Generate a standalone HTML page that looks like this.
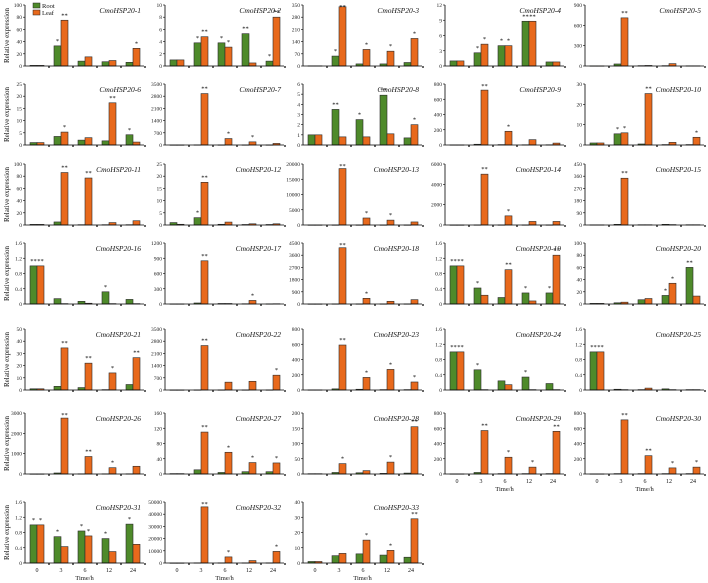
<!DOCTYPE html>
<html><head><meta charset="utf-8">
<style>
html,body{margin:0;padding:0;background:#fff;overflow:hidden;width:708px;height:583px;}
svg{display:block;font-family:"Liberation Serif",serif;overflow:hidden;}
</style></head>
<body>
<svg id="chart" width="708" height="583" viewBox="0 0 708 583" xmlns="http://www.w3.org/2000/svg"></svg>
<script>
// ---- data ----
const timeLabels = ["0","3","6","12","24"];
const geneNames = ["CmoHSP20-1","CmoHSP20-2","CmoHSP20-3","CmoHSP20-4","CmoHSP20-5","CmoHSP20-6","CmoHSP20-7","CmoHSP20-8","CmoHSP20-9","CmoHSP20-10","CmoHSP20-11","CmoHSP20-12","CmoHSP20-13","CmoHSP20-14","CmoHSP20-15","CmoHSP20-16","CmoHSP20-17","CmoHSP20-18","CmoHSP20-19","CmoHSP20-20","CmoHSP20-21","CmoHSP20-22","CmoHSP20-23","CmoHSP20-24","CmoHSP20-25","CmoHSP20-26","CmoHSP20-27","CmoHSP20-28","CmoHSP20-29","CmoHSP20-30","CmoHSP20-31","CmoHSP20-32","CmoHSP20-33"];
const yMax = [100,10,350,12,900,25,3500,6,800,30,100,25,20000,6000,450,1.6,1200,4500,1.6,100,50,3500,800,1.6,1.6,3000,160,200,800,800,1.6,50000,40];
const yStep = [20,2,70,3,300,5,700,1,200,10,20,5,5000,2000,90,0.4,300,900,0.4,20,10,700,200,0.4,0.4,1000,40,50,200,200,0.4,10000,10];
const rootValues = [
[1,33,8,7,6],[1,3.8,3.8,5.3,0.8],[1,57,12,12,20],[1,2.6,4,8.8,0.8],[1,30,5,5,3],
[1,3.5,2,1.7,4.2],[1,5,3,3,3],[1,3.5,2.5,4.9,0.7],[1,10,5,3,3],[1,5.5,0.5,0.2,0.2],
[1,5,0.5,0.5,0.5],[1,3,0.3,0.2,0.2],[1,5,5,5,5],[1,5,5,5,5],[1,5,2,5,2],
[1,0.14,0.07,0.32,0.12],[1,20,10,5,2],[1,5,5,5,5],[1,0.42,0.17,0.29,0.29],[1,2,7,14,60],
[1,3,2,0.3,4.5],[1,3,3,3,3],[1,15,10,5,5],[1,0.53,0.24,0.34,0.17],[1,0.02,0.01,0.03,0.01],
[1,50,10,10,10],[1,11,4,6,6],[1,5,4,2,3],[1,20,5,5,5],[1,5,5,5,5],
[1,0.69,0.84,0.64,1.02],[1,100,100,100,100],[1,4.8,6,5.2,3.8]];
const leafValues = [
[1,75,15,9,29],[1,4.8,3.1,0.5,8],[1,340,95,85,158],[1,4.3,4,8.8,0.8],[1,710,8,35,3],
[1,5.3,3,17.3,1.2],[1,2950,370,180,90],[1,0.8,0.8,1.1,2],[1,720,180,70,25],[1,6,25.3,1.3,3.8],
[1,86,77,4,7],[0.3,17.5,1.2,0.5,0.5],[1,18500,2300,1600,1000],[1,5000,900,350,350],[1,345,2,3,2],
[1,0.01,0.02,0.01,0.01],[1,850,10,70,5],[1,4150,420,200,320],[1,0.23,0.9,0.08,1.28],[1,3,9,34,13],
[1,34.5,22,14,26.5],[1,2550,450,500,850],[1,590,165,270,105],[1,0.01,0.14,0.01,0.01],[1,0.01,0.05,0.01,0.01],
[1,2750,860,310,380],[1,110,57,30,29],[1,34,11,39,155],[1,570,220,90,560],[1,710,240,80,90],
[1,0.43,0.71,0.3,0.49],[1,46000,5000,2000,9500],[1,6.3,15,8.3,29]];
// significance marks per group, "|"-separated (0|3|6|12|24)
const rootStars = ["|*|||","|*|*|**|*","|*|||","|*|*|**|","||||","||||*","||||","|**|*|**|","||||","|*|||",
"||||","|*|||","||||","||||","||||","**|||*|","||||","||||","**|*||*|*","|||*|**",
"||||","||||","||||","**|*||*|","**||||","||||","||||","||||","||||","||||",
"*|*|*|*|*","||||","||||"];
const leafStars = ["|**|||*","|**|*||**","|**|*|*|*","|*|*|**|","|**|||","|*||**|","|**|*|*|","||||*","|**|*||","|*|**||*",
"|**|**||","|**|||","|**|*|*|","|**|*||","|**|||","**||||","|**||*|","|**|*||","**||**||**","|||*|",
"|**|**|*|**","|**|||*","|**|*|*|*","**||||","**||||","|**|**|*|","|**|*|*|*","|*||*|**","|**|*|*|**","|**|**|*|*",
"*||*||","|**|*||*","||*|*|**"];

// ---- layout ----
const colX = [25,165,303,445,585];
const rowTop = [5,84,164,243,329,413,502];
const plotH = 61, plotW = 119, groupW = 24, barW = 7;
const NS = "http://www.w3.org/2000/svg";
const svg = document.getElementById('chart');
function mk(tag, attrs, parent){
  const e = document.createElementNS(NS, tag);
  for (const k in attrs) e.setAttribute(k, attrs[k]);
  (parent||svg).appendChild(e);
  return e;
}
function fmt(v){ return Math.abs(v - Math.round(v)) < 1e-9 ? String(Math.round(v)) : v.toFixed(1); }

for (let p = 0; p < geneNames.length; p++) {
  const col = p % 5, row = Math.floor(p / 5);
  const x0 = colX[col], top = rowTop[row], bot = top + plotH;
  const g = mk('g', {});
  
  
  const ys = v => bot - (Math.min(v, yMax[p]) / yMax[p]) * plotH;
  const xc = i => x0 + 12 + groupW * i;
  const rs = rootStars[p].split('|'), ls = leafStars[p].split('|');

  for (let i = 0; i < 5; i++) {
    const rv = rootValues[p][i], lv = leafValues[p][i];
    const ry = ys(rv), ly = ys(lv);
    const r = mk('rect', {x: xc(i) - barW, y: ry, width: barW, height: Math.max(0.3, bot - ry), fill: '#4e8a2a', stroke: '#2a2a2a', 'stroke-width': 0.6}, g);
    
    
    const l = mk('rect', {x: xc(i), y: ly, width: barW, height: Math.max(0.3, bot - ly), fill: '#e8691c', stroke: '#2a2a2a', 'stroke-width': 0.6}, g);
    
    
    if (rs[i]) {
      const s = mk('text', {x: xc(i) - barW / 2, y: ry - 3, 'font-size': 6.5, 'text-anchor': 'middle', fill: '#111'}, g);
      s.textContent = rs[i];
      
      
    }
    if (ls[i]) {
      const s = mk('text', {x: xc(i) + barW / 2, y: Math.max(top + 4, ly - 3), 'font-size': 6.5, 'text-anchor': 'middle', fill: '#111'}, g);
      s.textContent = ls[i];
      
      
    }
  }
  const ax = mk('path', {d: `M${x0},${top} V${bot} H${x0 + plotW}`, stroke: '#000', 'stroke-width': 0.8, fill: 'none'}, g);
  
  
  for (let i = 1; i <= 5; i++) {
    const t = mk('line', {x1: x0 + groupW * i, x2: x0 + groupW * i, y1: bot, y2: bot + 2, stroke: '#000', 'stroke-width': 1.2}, g);
    
    
  }
  for (let v = 0; v <= yMax[p] + 1e-9; v += yStep[p]) {
    const y = ys(v);
    const t = mk('line', {x1: x0 - 2, x2: x0, y1: y, y2: y, stroke: '#000', 'stroke-width': 0.6}, g);
    
    
    const tl = mk('text', {x: x0 - 3, y: y + 2, 'font-size': 5.5, 'text-anchor': 'end', fill: '#222'}, g);
    tl.textContent = fmt(v);
    
    
  }
  const tt = mk('text', {x: x0 + plotW - 3, y: top + 8, 'font-size': 7.5, 'font-style': 'italic', 'text-anchor': 'end', fill: '#111'}, g);
  tt.textContent = geneNames[p];
  
  

  if (col === 0) {
    const yl = mk('text', {x: 9, y: top + plotH / 2, 'font-size': 7, 'text-anchor': 'middle', transform: `rotate(-90 9 ${top + plotH / 2})`, fill: '#111'}, g);
    yl.textContent = 'Relative expression';
    
    
  }
  if (row === 6 || p === 28 || p === 29) {
    for (let i = 0; i < 5; i++) {
      const xl = mk('text', {x: xc(i), y: bot + 9, 'font-size': 6, 'text-anchor': 'middle', fill: '#111'}, g);
      xl.textContent = timeLabels[i];
      
      
    }
    const xt = mk('text', {x: x0 + plotW / 2, y: bot + 17, 'font-size': 6.5, 'text-anchor': 'middle', fill: '#111'}, g);
    xt.textContent = 'Time/h';
    
    
  }
}
const lg = mk('g', {});


const lr = mk('rect', {x: 33, y: 3, width: 7, height: 5, fill: '#4e8a2a', stroke: '#222', 'stroke-width': 0.5}, lg);


const lt = mk('text', {x: 42, y: 8, 'font-size': 6.5, fill: '#111'}, lg);
lt.textContent = 'Root';


const lr2 = mk('rect', {x: 33, y: 10, width: 7, height: 5, fill: '#e8691c', stroke: '#222', 'stroke-width': 0.5}, lg);


const lt2 = mk('text', {x: 42, y: 15, 'font-size': 6.5, fill: '#111'}, lg);
lt2.textContent = 'Leaf';


</script>
</body></html>
